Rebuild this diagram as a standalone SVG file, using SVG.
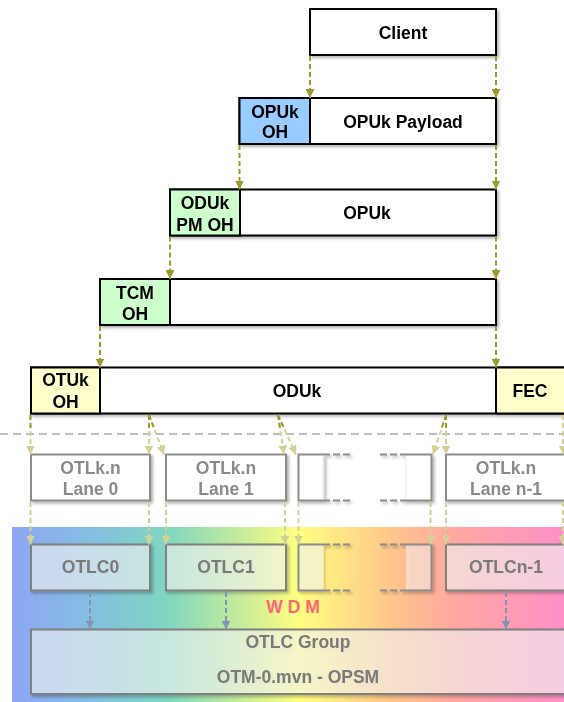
<svg xmlns="http://www.w3.org/2000/svg" width="564" height="702" viewBox="0 0 564 702">
<defs>
<style>
.box{stroke:#000;stroke-width:2;fill:#fff}
.t{font-family:"Liberation Sans",Arial,sans-serif;font-weight:bold;font-size:17.5px;text-anchor:middle;fill:#000}
.gt{fill:#8a8a8a}
.lt{fill:#7a7a7a}
.lane{fill:#fff;stroke:#8c8c8c;stroke-width:2}
.otlc{fill:#fff;fill-opacity:0.55;stroke:#808080;stroke-width:2}
.solid{fill:none;stroke:#8c8c8c;stroke-width:2}
.dsh{fill:none;stroke:#8c8c8c;stroke-width:2;stroke-dasharray:7 3}
.a1{stroke:#9a9a2e;stroke-width:2;stroke-dasharray:5 3;fill:none}
.a2{stroke:#d2d298;stroke-width:2;stroke-dasharray:5 3;fill:none}
.a3{stroke:#8494b4;stroke-width:2;stroke-dasharray:5 3;fill:none}
</style>
<filter id="sh" x="-10%" y="-10%" width="130%" height="140%">
<feDropShadow dx="2" dy="2" stdDeviation="1.5" flood-color="#000" flood-opacity="0.3"/>
</filter>
<marker id="m1" viewBox="0 0 10 10" refX="10" refY="5" markerWidth="9" markerHeight="9" markerUnits="userSpaceOnUse" orient="auto">
<path d="M0,0 L10,5 L0,10 z" fill="#9a9a2e" stroke="none"/>
</marker>
<marker id="m2" viewBox="0 0 10 10" refX="10" refY="5" markerWidth="9" markerHeight="9" markerUnits="userSpaceOnUse" orient="auto">
<path d="M0,0 L10,5 L0,10 z" fill="#d2d298" stroke="none"/>
</marker>
<marker id="m3" viewBox="0 0 10 10" refX="10" refY="5" markerWidth="9" markerHeight="9" markerUnits="userSpaceOnUse" orient="auto">
<path d="M0,0 L10,5 L0,10 z" fill="#8494b4" stroke="none"/>
</marker>
<linearGradient id="wdm" gradientUnits="userSpaceOnUse" x1="12" y1="0" x2="564" y2="0">
<stop offset="0" stop-color="#8ea6f5"/>
<stop offset="0.15" stop-color="#84c0e0"/>
<stop offset="0.28" stop-color="#7fd6c0"/>
<stop offset="0.44" stop-color="#d4f094"/>
<stop offset="0.52" stop-color="#ffff80"/>
<stop offset="0.68" stop-color="#ffc88a"/>
<stop offset="0.8" stop-color="#ffa8a0"/>
<stop offset="1" stop-color="#ff90c8"/>
</linearGradient>
</defs>

<rect id="wdm-bg" x="12" y="527" width="552" height="175" fill="url(#wdm)"/>
<line x1="0" y1="434" x2="564" y2="434" stroke="#aaa" stroke-width="1.5" stroke-dasharray="8 5"/>

<g id="client" filter="url(#sh)">
<rect class="box" x="310" y="9" width="186" height="46"/>
<text class="t" x="403" y="39">Client</text>
</g>

<g id="opuk-row" filter="url(#sh)">
<rect class="box" x="239.5" y="98" width="256.5" height="46"/>
<rect class="box" x="239.5" y="98" width="70.5" height="46" style="fill:#99ccff"/>
<text class="t" x="275" y="118">OPUk</text>
<text class="t" x="275" y="138">OH</text>
<text class="t" x="403" y="128">OPUk Payload</text>
</g>

<g id="oduk-row" filter="url(#sh)">
<rect class="box" x="170" y="189.5" width="326" height="46"/>
<rect class="box" x="170" y="189.5" width="70" height="46" style="fill:#ccffcc"/>
<text class="t" x="205" y="209">ODUk</text>
<text class="t" x="205" y="230.5">PM OH</text>
<text class="t" x="367" y="219">OPUk</text>
</g>

<g id="tcm-row" filter="url(#sh)">
<rect class="box" x="100" y="279" width="396" height="46"/>
<rect class="box" x="100" y="279" width="70" height="46" style="fill:#ccffcc"/>
<text class="t" x="135" y="298.5">TCM</text>
<text class="t" x="135" y="320">OH</text>
</g>

<g id="otuk-row" filter="url(#sh)">
<rect class="box" x="31" y="367.5" width="540" height="46"/>
<rect class="box" x="31" y="367.5" width="69" height="46" style="fill:#ffffcc"/>
<rect class="box" x="496" y="367.5" width="75" height="46" style="fill:#ffffcc"/>
<text class="t" x="65.5" y="386">OTUk</text>
<text class="t" x="65.5" y="408">OH</text>
<text class="t" x="297" y="397">ODUk</text>
<text class="t" x="530" y="397">FEC</text>
</g>

<g id="lane0" filter="url(#sh)">
<rect class="lane" x="31" y="454.5" width="119" height="46"/>
<text class="t gt" x="90.5" y="473.5">OTLk.n</text>
<text class="t gt" x="90.5" y="495">Lane 0</text>
</g>
<g id="lane1" filter="url(#sh)">
<rect class="lane" x="166" y="454.5" width="120" height="46"/>
<text class="t gt" x="226" y="473.5">OTLk.n</text>
<text class="t gt" x="226" y="495">Lane 1</text>
</g>
<g id="lane-mid" filter="url(#sh)">
<rect x="298.5" y="454.5" width="25" height="46" fill="#fff"/>
<rect x="406" y="454.5" width="25.5" height="46" fill="#fff"/>
<line x1="323.5" y1="455.5" x2="323.5" y2="499.5" stroke="#e2e2e2" stroke-width="1.5"/>
<line x1="406" y1="455.5" x2="406" y2="499.5" stroke="#f2f2f2" stroke-width="1.5"/>
<path class="solid" d="M323,454.5 H298.5 V500.5 H323"/>
<path class="dsh" d="M323,454.5 H350 M323,500.5 H350"/>
<path class="solid" d="M406,454.5 H431.5 V500.5 H406"/>
<path class="dsh" d="M380,454.5 H406 M380,500.5 H406"/>
</g>
<g id="lane-n1" filter="url(#sh)">
<rect class="lane" x="446" y="454.5" width="122" height="46"/>
<text class="t gt" x="506" y="473.5">OTLk.n</text>
<text class="t gt" x="506" y="495">Lane n-1</text>
</g>

<g id="otlc0" filter="url(#sh)">
<rect class="otlc" x="31" y="544.5" width="119" height="46"/>
<text class="t lt" x="90.5" y="573">OTLC0</text>
</g>
<g id="otlc1" filter="url(#sh)">
<rect class="otlc" x="166" y="544.5" width="120" height="46"/>
<text class="t lt" x="226" y="573">OTLC1</text>
</g>
<g id="otlc-mid" filter="url(#sh)">
<rect x="298.5" y="544.5" width="25" height="46" fill="#fff" fill-opacity="0.55"/>
<rect x="406" y="544.5" width="25.5" height="46" fill="#fff" fill-opacity="0.45"/>
<path class="solid" d="M323,544.5 H298.5 V590.5 H323"/>
<path class="dsh" d="M323,544.5 H350 M323,590.5 H350"/>
<path class="solid" d="M406,544.5 H431.5 V590.5 H406"/>
<path class="dsh" d="M380,544.5 H406 M380,590.5 H406"/>
</g>
<g id="otlcn1" filter="url(#sh)">
<rect class="otlc" x="446" y="544.5" width="122" height="46"/>
<text class="t lt" x="506" y="573">OTLCn-1</text>
</g>

<g id="wdm-label">
<text class="t" x="293" y="613" style="fill:#ff6677">W D M</text>
</g>

<g id="otlc-group" filter="url(#sh)">
<rect class="otlc" x="31" y="629.5" width="540" height="64.5"/>
<text class="t lt" x="298" y="648">OTLC Group</text>
<text class="t lt" x="298" y="683">OTM-0.mvn - OPSM</text>
</g>

<g id="connectors">
<line class="a1" x1="310" y1="56" x2="310" y2="98" marker-end="url(#m1)"/>
<line class="a1" x1="496" y1="56" x2="496" y2="98" marker-end="url(#m1)"/>
<line class="a1" x1="239.5" y1="145" x2="239.5" y2="189.5" marker-end="url(#m1)"/>
<line class="a1" x1="496" y1="145" x2="496" y2="189.5" marker-end="url(#m1)"/>
<line class="a1" x1="170" y1="236.5" x2="170" y2="279" marker-end="url(#m1)"/>
<line class="a1" x1="496" y1="236.5" x2="496" y2="279" marker-end="url(#m1)"/>
<line class="a1" x1="100" y1="326" x2="100" y2="367.5" marker-end="url(#m1)"/>
<line class="a1" x1="496" y1="326" x2="496" y2="367.5" marker-end="url(#m1)"/>

<line class="a2" x1="30.5" y1="415" x2="30.5" y2="454.5" marker-end="url(#m2)"/>
<line class="a2" x1="149" y1="415" x2="149" y2="454.5" marker-end="url(#m2)"/>
<line class="a2" x1="149" y1="415" x2="164" y2="454.5" marker-end="url(#m2)"/>
<line class="a2" x1="278" y1="415" x2="284" y2="454.5" marker-end="url(#m2)"/>
<line class="a2" x1="278" y1="415" x2="296" y2="454.5" marker-end="url(#m2)"/>
<line class="a2" x1="446" y1="415" x2="433" y2="454.5" marker-end="url(#m2)"/>
<line class="a2" x1="446" y1="415" x2="446" y2="454.5" marker-end="url(#m2)"/>
<line class="a2" x1="563" y1="415" x2="563" y2="454.5" marker-end="url(#m2)"/>

<line class="a1" x1="30.5" y1="415" x2="30.5" y2="429"/>
<line class="a1" x1="149" y1="415" x2="149" y2="429"/>
<line class="a1" x1="149" y1="415" x2="154.3" y2="429"/>
<line class="a1" x1="278" y1="415" x2="280.1" y2="429"/>
<line class="a1" x1="278" y1="415" x2="284.4" y2="429"/>
<line class="a1" x1="446" y1="415" x2="441.4" y2="429"/>
<line class="a1" x1="446" y1="415" x2="446" y2="429"/>

<line class="a2" x1="30.5" y1="502" x2="30.5" y2="544.5" marker-end="url(#m2)"/>
<line class="a2" x1="149" y1="502" x2="149" y2="544.5" marker-end="url(#m2)"/>
<line class="a2" x1="166" y1="502" x2="166" y2="544.5" marker-end="url(#m2)"/>
<line class="a2" x1="285" y1="502" x2="285" y2="544.5" marker-end="url(#m2)"/>
<line class="a2" x1="298.5" y1="502" x2="298.5" y2="544.5" marker-end="url(#m2)"/>
<line class="a2" x1="430.5" y1="502" x2="430.5" y2="544.5" marker-end="url(#m2)"/>
<line class="a2" x1="446" y1="502" x2="446" y2="544.5" marker-end="url(#m2)"/>
<line class="a2" x1="563" y1="502" x2="563" y2="544.5" marker-end="url(#m2)"/>

<line class="a3" x1="90" y1="592" x2="90" y2="629.5" marker-end="url(#m3)"/>
<line class="a3" x1="226" y1="592" x2="226" y2="629.5" marker-end="url(#m3)"/>
<line class="a3" x1="506" y1="592" x2="506" y2="629.5" marker-end="url(#m3)"/>
</g>
</svg>
